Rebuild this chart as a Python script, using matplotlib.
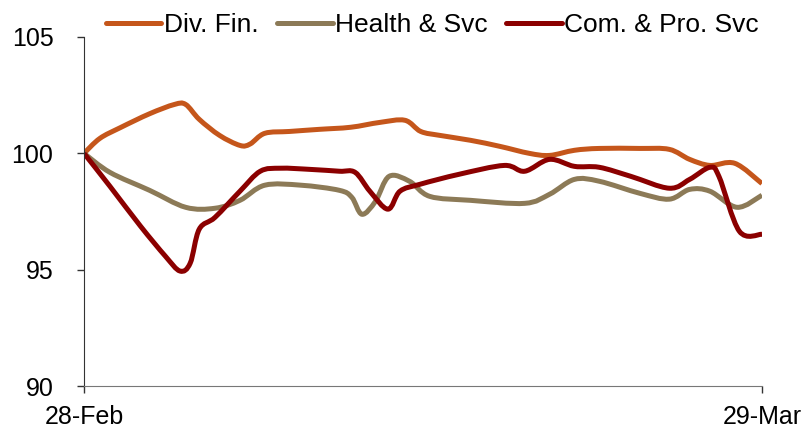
import matplotlib.pyplot as plt
from matplotlib.path import Path
from matplotlib.patches import PathPatch
from matplotlib.lines import Line2D

# days since 28-Feb and index level (28-Feb = 100)
div_fin_days = [0, 0.7, 1.6, 2.9, 4.0, 4.5, 5.1, 6.0, 6.9, 7.35, 8.0, 9.1, 10.4, 11.8,
                13.1, 14.2, 14.9, 15.75, 17.1, 18.4, 19.7, 20.6, 21.7, 22.8, 24.6,
                25.9, 26.8, 27.7, 28.8, 30]
div_fin = [100, 100.64, 101.1, 101.7, 102.1, 102.1, 101.46, 100.77, 100.34, 100.4,
           100.86, 100.94, 101.03, 101.12, 101.33, 101.42, 100.94, 100.77, 100.56,
           100.3, 100.0, 99.91, 100.13, 100.21, 100.21, 100.17, 99.74, 99.48,
           99.57, 98.7]

health_days = [0, 1.15, 2.9, 4.5, 5.8, 6.9, 8.0, 9.6, 11.3, 11.85, 12.3, 12.9, 13.5,
               14.4, 15.3, 17.1, 19.5, 20.6, 21.7, 22.8, 24.6, 25.9, 26.8, 27.7,
               28.9, 30]
health = [100, 99.18, 98.41, 97.68, 97.64, 97.98, 98.63, 98.63, 98.41, 98.11, 97.38,
          97.94, 99.01, 98.8, 98.15, 97.98, 97.85, 98.24, 98.88, 98.8, 98.28,
          98.03, 98.45, 98.37, 97.68, 98.2]

com_pro_days = [0, 1.15, 2.5, 3.6, 4.25, 4.7, 5.1, 5.8, 6.9, 7.8, 8.7, 10.0, 11.3,
                12.0, 12.65, 13.45, 13.98, 14.87, 16.6, 18.6, 19.5, 20.6, 21.7,
                22.8, 24.2, 25.9, 26.8, 27.7, 28.1, 29.0, 30]
com_pro = [100, 98.58, 96.87, 95.58, 94.94, 95.28, 96.74, 97.25, 98.37, 99.23, 99.36,
           99.31, 99.23, 99.18, 98.37, 97.6, 98.37, 98.67, 99.1, 99.48, 99.23,
           99.74, 99.44, 99.4, 99.01, 98.5, 98.88, 99.4, 99.0, 96.65, 96.52]

tick_days = [0, 30]
tick_labels = ['28-Feb', '29-Mar']

series = [
    ('Div. Fin.', div_fin_days, div_fin, '#C5561B'),
    ('Health & Svc', health_days, health, '#8C7A57'),
    ('Com. & Pro. Svc', com_pro_days, com_pro, '#8B0000'),
]


def smooth_path(xs, ys):
    # Catmull-Rom segments written as cubic Bezier curves (spreadsheet "smoothed line")
    pts = list(zip(xs, ys))
    n = len(pts)
    verts = [pts[0]]
    codes = [Path.MOVETO]
    for i in range(n - 1):
        p0 = pts[max(i - 1, 0)]
        p1 = pts[i]
        p2 = pts[i + 1]
        p3 = pts[min(i + 2, n - 1)]
        c1 = (p1[0] + (p2[0] - p0[0]) / 6, p1[1] + (p2[1] - p0[1]) / 6)
        c2 = (p2[0] - (p3[0] - p1[0]) / 6, p2[1] - (p3[1] - p1[1]) / 6)
        verts += [c1, c2, p2]
        codes += [Path.CURVE4] * 3
    return Path(verts, codes)


plt.rcParams['font.family'] = ['Liberation Sans', 'DejaVu Sans']

fig = plt.figure(figsize=(8.1, 4.28), dpi=100)
ax = fig.add_axes([0.1037, 0.0981, 0.837, 0.8155])

lw = 3.6
handles = []
for name, xs, ys, col in series:
    ax.add_patch(PathPatch(smooth_path(xs, ys), facecolor='none', edgecolor=col,
                           lw=lw, joinstyle='round', capstyle='butt'))
    handles.append(Line2D([], [], color=col, lw=lw, solid_capstyle='round', label=name))

ax.set_xlim(0, 30)
ax.set_ylim(90, 105)
ax.set_yticks([90, 95, 100, 105])
ax.set_xticks(tick_days)
ax.set_xticklabels(tick_labels)

for s in ['top', 'right']:
    ax.spines[s].set_visible(False)
ax.spines['left'].set_color('#333333')
ax.spines['bottom'].set_color('#777777')
ax.tick_params(axis='both', direction='out', length=5, width=1, labelsize=18,
               colors='#333333', labelcolor='black')
ax.tick_params(axis='x', pad=9)
ax.tick_params(axis='y', pad=17)

ax.legend(handles=handles, loc='lower center', bbox_to_anchor=(0.514, 0.97), ncol=3,
          frameon=False, fontsize=19, handlelength=2.1, handletextpad=0.1,
          columnspacing=0.7, borderaxespad=0)

fig.savefig('out.png', dpi=100)
